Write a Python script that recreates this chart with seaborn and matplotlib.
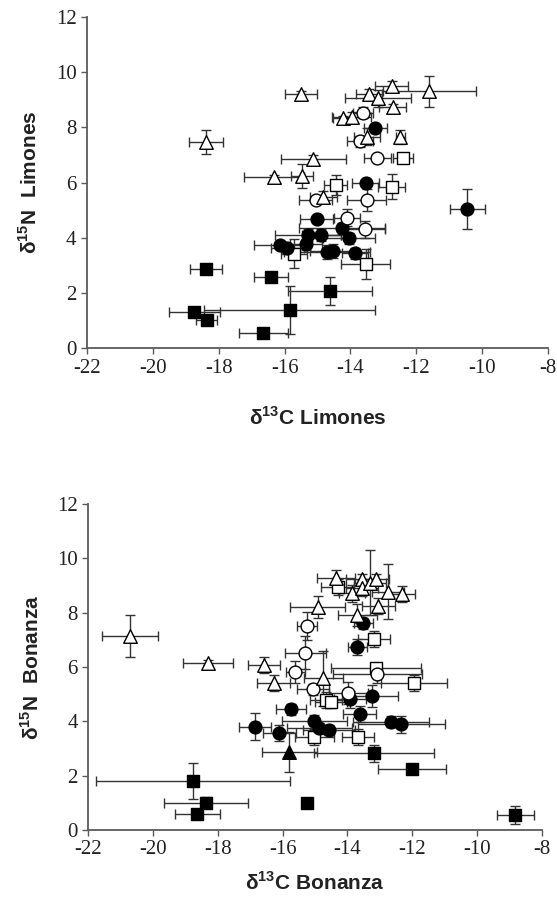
import pandas as pd
import matplotlib
matplotlib.use("Agg")
import matplotlib.pyplot as plt
import seaborn as sns

# marker groups: fsq filled square, osq open square, fci filled circle,
# oci open circle, otr open triangle, ftr filled triangle

# Limones
lim_group = (['fsq'] * 7 + ['osq'] * 5 + ['fci'] * 14 + ['oci'] * 7 + ['otr'] * 15)
lim_x = [-18.39, -16.41, -14.62, -18.74, -18.37, -15.84, -16.65,
         -12.41, -14.45, -12.75, -15.72, -13.54,
         -13.25, -13.54, -15.03, -15.28, -14.88, -14.25, -14.04, -15.35, -16.14, -15.92, -14.72, -14.54, -13.86, -10.45,
         -13.61, -13.71, -13.18, -13.51, -15.05, -14.11, -13.56,
         -18.39, -15.51, -15.13, -16.31, -15.48, -14.82, -14.24, -13.96, -13.43, -13.16, -12.75, -12.72, -12.48, -11.60, -13.49]
lim_y = [2.86, 2.59, 2.08, 1.32, 1.02, 1.39, 0.57,
         6.87, 5.91, 5.85, 3.43, 3.05,
         7.98, 5.97, 4.67, 4.10, 4.10, 4.34, 3.98, 3.77, 3.74, 3.62, 3.50, 3.53, 3.44, 5.05,
         8.52, 7.50, 6.87, 5.37, 5.37, 4.73, 4.30,
         7.47, 9.20, 6.84, 6.19, 6.23, 5.49, 8.32, 8.36, 9.19, 9.05, 9.49, 8.74, 7.66, 9.30, 7.66]
lim_xerr = [0.48, 0.51, 1.27, 0.77, 0.31, 2.6, 0.74,
            0.3, 0.35, 0.4, 0.4, 0.75,
            0.35, 0.4, 0.5, 1.0, 0.6, 1.3, 0.8, 0.5, 0.8, 0.5, 1.3, 0.7, 0.4, 0.54,
            0.3, 0.4, 0.4, 0.6, 0.5, 0.4, 0.6,
            0.51, 0.49, 0.99, 0.91, 0.33, 0.4, 0.3, 0.6, 0.4, 1.0, 0.5, 0.4, 0.15, 1.4, 0.4]
lim_yerr = [0.12, 0.1, 0.51, 0.1, 0.1, 0.87, 0.1,
            0.15, 0.35, 0.45, 0.54, 0.55,
            0.15, 0.1, 0.1, 0.2, 0.2, 0.2, 0.2, 0.2, 0.15, 0.15, 0.25, 0.25, 0.2, 0.72,
            0.2, 0.2, 0.1, 0.4, 0.15, 0.3, 0.3,
            0.44, 0.1, 0.15, 0.1, 0.43, 0.2, 0.1, 0.2, 0.2, 0.3, 0.2, 0.1, 0.25, 0.55, 0.3]

# Bonanza
bon_group = (['fsq'] * 7 + ['ftr'] * 1 + ['osq'] * 8 + ['fci'] * 13 + ['oci'] * 6 + ['otr'] * 16)
bon_x = [-18.77, -18.36, -18.63, -15.25, -12.00, -8.81, -13.18,
         -15.79,
         -14.30, -13.18, -13.12, -11.94, -14.66, -14.50, -13.67, -15.02,
         -13.51, -13.69, -13.91, -13.25, -15.74, -13.62, -16.85, -16.10, -15.02, -14.87, -14.56, -12.66, -12.34,
         -15.25, -15.30, -15.61, -13.07, -15.07, -13.97,
         -20.71, -18.31, -16.58, -16.28, -14.74, -14.35, -13.86, -13.55, -13.54, -13.30, -12.74, -12.32, -14.92, -13.69, -13.04, -13.12]
bon_y = [1.82, 1.00, 0.58, 1.00, 2.23, 0.55, 2.82,
         2.88,
         8.95, 7.02, 5.95, 5.40, 4.78, 4.70, 3.43, 3.43,
         7.61, 6.75, 4.81, 4.93, 4.44, 4.27, 3.80, 3.58, 4.02, 3.74, 3.68, 3.99, 3.89,
         7.51, 6.53, 5.83, 5.73, 5.18, 5.05,
         7.14, 6.16, 6.07, 5.40, 5.58, 9.26, 8.71, 9.23, 8.90, 9.10, 8.78, 8.70, 8.20, 7.91, 8.24, 9.23]
bon_xerr = [3.0, 1.29, 0.70, 0.15, 1.06, 0.57, 1.85,
            0.85,
            0.5, 0.5, 1.4, 1.02, 0.5, 0.5, 0.5, 0.6,
            0.3, 0.3, 0.5, 0.82, 0.45, 0.5, 0.5, 0.5, 1.0, 1.0, 0.8, 1.18, 1.34,
            0.3, 0.63, 0.3, 1.38, 0.5, 0.6,
            0.86, 0.77, 0.5, 0.5, 0.6, 0.6, 0.4, 0.5, 0.5, 0.5, 0.5, 0.4, 0.86, 0.6, 0.5, 0.4]
bon_yerr = [0.66, 0.2, 0.1, 0.1, 0.1, 0.34, 0.3,
            0.74,
            0.3, 0.3, 0.2, 0.3, 0.3, 0.2, 0.3, 0.3,
            0.2, 0.3, 0.3, 0.4, 0.2, 0.3, 0.5, 0.3, 0.2, 0.2, 0.2, 0.2, 0.3,
            0.5, 0.6, 0.4, 0.3, 0.2, 0.4,
            0.77, 0.1, 0.3, 0.3, 1.0, 0.3, 0.3, 0.2, 0.3, 1.2, 1.03, 0.3, 0.4, 0.4, 0.3, 0.2]

styles = {
    'fsq': dict(marker='s', color='black', s=64),
    'osq': dict(marker='s', color='white', s=64),
    'fci': dict(marker='o', color='black', s=85),
    'oci': dict(marker='o', color='white', s=85),
    'otr': dict(marker='^', color='white', s=95),
    'ftr': dict(marker='^', color='black', s=95),
}

sns.set_style("ticks")
plt.rcParams['axes.unicode_minus'] = False
plt.rcParams['mathtext.fontset'] = 'custom'
plt.rcParams['mathtext.rm'] = 'Liberation Sans:bold'
plt.rcParams['mathtext.bf'] = 'Liberation Sans:bold'

fig = plt.figure(figsize=(5.57, 8.98), dpi=100)
ax_top = fig.add_axes([0.1562, 0.6121, 0.8276, 0.3693])
ax_bot = fig.add_axes([0.1585, 0.0757, 0.8140, 0.3630])


def draw_panel(ax, x, y, xerr, yerr, group, site, xlab_y):
    df = pd.DataFrame({'x': x, 'y': y, 'xerr': xerr, 'yerr': yerr, 'group': group})
    ax.errorbar(df['x'], df['y'], xerr=df['xerr'], yerr=df['yerr'], fmt='none',
                ecolor='#333333', elinewidth=1.0, capsize=3.5, capthick=1.0, zorder=1)
    for g, st in styles.items():
        sub = df[df['group'] == g]
        if len(sub) == 0:
            continue
        sns.scatterplot(data=sub, x='x', y='y', ax=ax, marker=st['marker'], color=st['color'],
                        s=st['s'], edgecolor='black', linewidth=1.0, zorder=3, legend=False)
    ax.set_xlim(-22, -8)
    ax.set_ylim(0, 12)
    ax.set_xticks(range(-22, -7, 2))
    ax.set_yticks(range(0, 13, 2))
    sns.despine(ax=ax)
    for sp in ['left', 'bottom']:
        ax.spines[sp].set_color('#5a5a5a')
        ax.spines[sp].set_linewidth(1.3)
    ax.tick_params(direction='out', length=4, width=1, color='#5a5a5a', labelsize=15,
                   labelcolor='#222222')
    for lbl in ax.get_xticklabels() + ax.get_yticklabels():
        lbl.set_family('Liberation Serif')
    ax.set_xlabel(r'δ$^{\mathbf{13}}$C ' + site, fontsize=15, fontweight='bold',
                  family='Liberation Sans', color='#222222')
    ax.set_ylabel(r'δ$^{\mathbf{15}}$N  ' + site, fontsize=15, fontweight='bold',
                  family='Liberation Sans', color='#222222')
    ax.xaxis.set_label_coords(0.5, xlab_y)
    ax.yaxis.set_label_coords(-0.1, 0.5)


draw_panel(ax_top, lim_x, lim_y, lim_xerr, lim_yerr, lim_group, 'Limones', -0.175)
draw_panel(ax_bot, bon_x, bon_y, bon_xerr, bon_yerr, bon_group, 'Bonanza', -0.125)

fig.savefig('out.png', dpi=100)
